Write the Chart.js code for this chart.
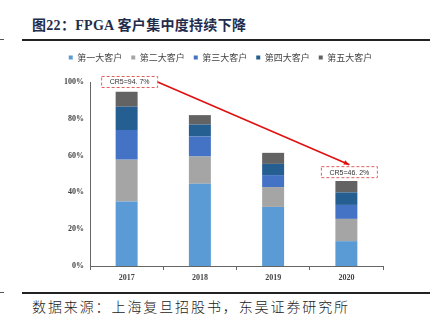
<!DOCTYPE html>
<html>
<head>
<meta charset="utf-8">
<script src="https://cdn.jsdelivr.net/npm/chart.js@4.4.0/dist/chart.umd.min.js"></script>
<style>
  html, body { margin: 0; padding: 0; background: #fff; }
  body { width: 433px; height: 327px; position: relative; overflow: hidden; }
  #title {
    position: absolute; left: 32px; top: 14px;
    font: bold 14px "Liberation Serif", "Noto Sans CJK SC", serif;
    color: #1f2d4d; letter-spacing: 0.3px; white-space: nowrap;
  }
  .rule { position: absolute; left: 22px; width: 408px; height: 1.5px; background: #222; }
  .dash { position: absolute; left: 0; width: 4px; height: 1px; background: #555; }
  #source {
    position: absolute; left: 32px; top: 296px;
    font: 14px "Noto Sans CJK SC", sans-serif; font-weight: 300;
    color: #222; letter-spacing: 1.9px; white-space: nowrap;
  }
  #wrap { position: absolute; left: 0; top: 0; width: 433px; height: 327px; }
</style>
</head>
<body>
<div id="title">图22：FPGA 客户集中度持续下降</div>
<div class="rule" style="top:39px"></div>
<div class="dash" style="top:39px"></div>
<div class="rule" style="top:292px"></div>
<div class="dash" style="top:292px"></div>
<div id="source">数据来源：上海复旦招股书，东吴证券研究所</div>
<div id="wrap"><canvas id="chart" width="433" height="327"></canvas></div>
<script>
// customer share by year (%)
const years = ["2017", "2018", "2019", "2020"];
const names = ["第一大客户", "第二大客户", "第三大客户", "第四大客户", "第五大客户"];
const top1 = [35.1, 44.7, 32.1, 13.5];
const top2 = [22.7, 14.8, 10.8, 12.1];
const top3 = [16.1, 10.9, 6.5, 7.6];
const top4 = [12.7, 6.5, 6.1, 6.8];
const top5 = [8.1, 5.1, 6.0, 6.2];
const cr5Labels = ["CR5=94. 7%", "CR5=46. 2%"];

const colors = ["#5b9bd5", "#a5a5a5", "#4472c4", "#255e91", "#636363"];
const series = [top1, top2, top3, top4, top5];

const data = {
  labels: years,
  datasets: series.map((s, i) => ({
    label: names[i],
    data: s,
    backgroundColor: colors[i],
    barPercentage: 0.3,
    categoryPercentage: 1,
  })),
};

// leave a gap under the legend row
const legendGap = {
  id: "legendGap",
  beforeLayout(chart) {
    const lg = chart.legend;
    if (lg && !lg._gapPatched) {
      const fit = lg.fit.bind(lg);
      lg.fit = function () {
        fit();
        this.height += 10;
      };
      lg._gapPatched = true;
    }
  },
};

// dashed CR5 boxes + red arrow
const cr5Plugin = {
  id: "cr5",
  afterDatasetsDraw(chart) {
    const ctx = chart.ctx;
    const x = chart.scales.x;
    const y = chart.scales.y;
    const boxW = 56, boxH = 11;
    const b1 = { cx: x.getPixelForValue(0) + 3, cy: y.getPixelForValue(100) };
    const b2 = { cx: x.getPixelForValue(3) + 3, cy: y.getPixelForValue(51) };

    ctx.save();
    // arrow
    const sx = b1.cx + boxW / 2, sy = b1.cy;
    const ex = b2.cx, ey = b2.cy - boxH / 2 - 2;
    ctx.strokeStyle = "#e01010";
    ctx.fillStyle = "#e01010";
    ctx.lineWidth = 1.6;
    ctx.beginPath();
    ctx.moveTo(sx, sy);
    ctx.lineTo(ex, ey);
    ctx.stroke();
    const ang = Math.atan2(ey - sy, ex - sx);
    ctx.beginPath();
    ctx.moveTo(ex, ey);
    ctx.lineTo(ex - 6 * Math.cos(ang - 0.4), ey - 6 * Math.sin(ang - 0.4));
    ctx.lineTo(ex - 6 * Math.cos(ang + 0.4), ey - 6 * Math.sin(ang + 0.4));
    ctx.closePath();
    ctx.fill();

    [b1, b2].forEach((b, i) => {
      ctx.fillStyle = "#fff";
      ctx.fillRect(b.cx - boxW / 2, b.cy - boxH / 2, boxW, boxH);
      ctx.setLineDash([3, 2]);
      ctx.strokeStyle = "#e06060";
      ctx.lineWidth = 1;
      ctx.strokeRect(b.cx - boxW / 2, b.cy - boxH / 2, boxW, boxH);
      ctx.setLineDash([]);
      ctx.fillStyle = "#333";
      ctx.font = "7px 'Liberation Sans', sans-serif";
      ctx.textAlign = "center";
      ctx.textBaseline = "middle";
      ctx.fillText(cr5Labels[i], b.cx, b.cy + 0.5);
    });
    ctx.restore();
  },
};

const config = {
  type: "bar",
  data: data,
  options: {
    responsive: false,
    animation: false,
    layout: { padding: { left: 58, right: 50, top: 44, bottom: 41 } },
    plugins: {
      legend: {
        position: "top",
        labels: {
          boxWidth: 4,
          boxHeight: 4,
          padding: 9,
          color: "#444",
          font: { family: "'Noto Sans CJK SC', sans-serif", size: 9 },
        },
      },
      tooltip: { enabled: false },
    },
    scales: {
      x: {
        stacked: true,
        grid: { offset: true, drawOnChartArea: false, drawTicks: true, tickLength: 4, color: "#666" },
        border: { color: "#666", width: 1 },
        ticks: { color: "#444", padding: 3, font: { family: "'Liberation Serif', serif", size: 8, weight: "bold" } },
        afterFit: (s) => { s.height = 20; },
      },
      y: {
        stacked: true,
        min: 0,
        max: 100,
        grid: { display: false, drawTicks: false },
        border: { color: "#666", width: 1 },
        ticks: {
          stepSize: 20,
          padding: 6,
          color: "#444",
          font: { family: "'Liberation Serif', serif", size: 8, weight: "bold" },
          callback: (v) => v + "%",
        },
        afterFit: (s) => { s.width = 32; },
      },
    },
  },
  plugins: [legendGap, cr5Plugin],
};

const myChart = new Chart(document.getElementById("chart"), config);
</script>
</body>
</html>
